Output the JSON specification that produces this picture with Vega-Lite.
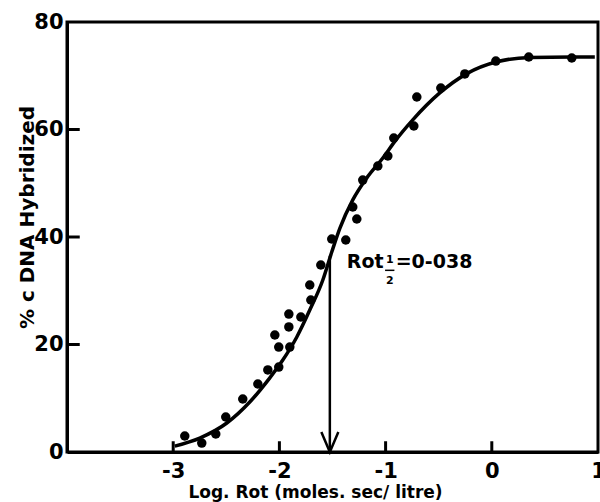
{
  "$schema": "https://vega.github.io/schema/vega-lite/v6.json",
  "width": 531,
  "height": 430,
  "autosize": "none",
  "padding": {"left": 67, "top": 22, "right": 2, "bottom": 50},
  "background": "white",
  "config": {
    "view": {"stroke": "black", "strokeWidth": 3},
    "axis": {
      "grid": false,
      "domainColor": "black",
      "domainWidth": 3,
      "ticks": false,
      "labelFont": "DejaVu Sans",
      "labelFontWeight": "bold",
      "labelFontSize": 21,
      "labelColor": "black",
      "labelFlush": false,
      "labelOverlap": false,
      "titleFont": "DejaVu Sans",
      "titleFontWeight": "bold",
      "titleColor": "black"
    }
  },
  "datasets": {
    "dots": [
      {"x": -2.891, "y": 2.98}, {"x": -2.731, "y": 1.67}, {"x": -2.599, "y": 3.35},
      {"x": -2.505, "y": 6.51}, {"x": -2.345, "y": 9.86}, {"x": -2.203, "y": 12.65},
      {"x": -2.109, "y": 15.26}, {"x": -2.006, "y": 15.81}, {"x": -2.043, "y": 21.77},
      {"x": -2.006, "y": 19.53}, {"x": -1.902, "y": 19.53}, {"x": -1.911, "y": 23.26},
      {"x": -1.911, "y": 25.67}, {"x": -1.798, "y": 25.12}, {"x": -1.704, "y": 28.28},
      {"x": -1.714, "y": 31.07}, {"x": -1.61, "y": 34.79}, {"x": -1.507, "y": 39.63},
      {"x": -1.375, "y": 39.44}, {"x": -1.271, "y": 43.35}, {"x": -1.309, "y": 45.58},
      {"x": -1.215, "y": 50.6}, {"x": -1.073, "y": 53.21}, {"x": -0.979, "y": 55.07},
      {"x": -0.923, "y": 58.42}, {"x": -0.734, "y": 60.65}, {"x": -0.706, "y": 66.05},
      {"x": -0.48, "y": 67.72}, {"x": -0.254, "y": 70.33}, {"x": 0.038, "y": 72.74},
      {"x": 0.348, "y": 73.49}, {"x": 0.753, "y": 73.3}
    ],
    "curve": [
      {"x": -2.985, "y": 1.1}, {"x": -2.75, "y": 2.6}, {"x": -2.495, "y": 5.4},
      {"x": -2.279, "y": 9.3}, {"x": -2.09, "y": 13.8}, {"x": -1.968, "y": 17.1},
      {"x": -1.836, "y": 21.4}, {"x": -1.714, "y": 26.4}, {"x": -1.591, "y": 32.0},
      {"x": -1.507, "y": 37.2}, {"x": -1.431, "y": 41.6}, {"x": -1.309, "y": 46.9},
      {"x": -1.177, "y": 51.0}, {"x": -1.026, "y": 54.7}, {"x": -0.913, "y": 57.8},
      {"x": -0.744, "y": 61.8}, {"x": -0.49, "y": 66.8}, {"x": -0.235, "y": 70.4},
      {"x": 0.047, "y": 72.6}, {"x": 0.358, "y": 73.4}, {"x": 0.753, "y": 73.5},
      {"x": 0.97, "y": 73.5}
    ],
    "xticks": [
      {"x": -3, "y": 0, "y2": 2.0}, {"x": -2, "y": 0, "y2": 2.0},
      {"x": -1, "y": 0, "y2": 2.0}, {"x": 0, "y": 0, "y2": 2.0}
    ],
    "yticks": [
      {"x": -4, "x2": -3.88, "y": 20}, {"x": -4, "x2": -3.88, "y": 40},
      {"x": -4, "x2": -3.88, "y": 60}
    ],
    "arrow": [{"x": -1.525, "y": 36.5, "y2": 0, "yh": 1.86}],
    "bigText": [
      {"x": -1.365, "y": 35.3, "t": "Rot"},
      {"x": -0.905, "y": 35.3, "t": "=0-038"}
    ],
    "smallText": [
      {"x": -0.961, "y": 35.7, "t": "1"},
      {"x": -0.961, "y": 31.8, "t": "2"}
    ],
    "bar": [{"x": -1.005, "x2": -0.917, "y": 33.8}]
  },
  "layer": [
    {
      "data": {"name": "curve"},
      "mark": {"type": "line", "color": "black", "strokeWidth": 3.5, "interpolate": "monotone"},
      "encoding": {
        "x": {
          "field": "x", "type": "quantitative",
          "scale": {"domain": [-4, 1], "nice": false, "zero": false},
          "axis": {
            "orient": "bottom",
            "values": [-3, -2, -1, 0, 1],
            "labelPadding": 8,
            "format": "d",
            "labelExpr": "datum.value < 0 ? '-' + abs(datum.value) : datum.label",
            "title": "Log. Rot  (moles. sec/ litre)",
            "titleFontSize": 17,
            "titleX": 248,
            "titleY": 45,
            "titleAlign": "center",
            "titleBaseline": "alphabetic"
          }
        },
        "y": {
          "field": "y", "type": "quantitative",
          "scale": {"domain": [0, 80], "nice": false},
          "axis": {
            "orient": "left",
            "values": [0, 20, 40, 60, 80],
            "labelPadding": 4,
            "title": "% c DNA Hybridized",
            "titleFontSize": 20,
            "titleAngle": -90,
            "titleX": -34,
            "titleY": 195,
            "titleAlign": "center",
            "titleBaseline": "alphabetic"
          }
        }
      }
    },
    {
      "data": {"name": "dots"},
      "mark": {"type": "point", "filled": true, "color": "black", "size": 90, "opacity": 1},
      "encoding": {
        "x": {"field": "x", "type": "quantitative"},
        "y": {"field": "y", "type": "quantitative"}
      }
    },
    {
      "data": {"name": "xticks"},
      "mark": {"type": "rule", "color": "black", "strokeWidth": 3},
      "encoding": {
        "x": {"field": "x", "type": "quantitative"},
        "y": {"field": "y", "type": "quantitative"},
        "y2": {"field": "y2"}
      }
    },
    {
      "data": {"name": "yticks"},
      "mark": {"type": "rule", "color": "black", "strokeWidth": 3},
      "encoding": {
        "x": {"field": "x", "type": "quantitative"},
        "x2": {"field": "x2"},
        "y": {"field": "y", "type": "quantitative"}
      }
    },
    {
      "data": {"name": "arrow"},
      "mark": {"type": "rule", "color": "black", "strokeWidth": 2.5},
      "encoding": {
        "x": {"field": "x", "type": "quantitative"},
        "y": {"field": "y", "type": "quantitative"},
        "y2": {"field": "y2"}
      }
    },
    {
      "data": {"name": "arrow"},
      "mark": {"type": "point", "shape": "M-0.85,-1L0,1L0.85,-1", "filled": false, "stroke": "black", "strokeWidth": 2.5, "size": 400, "opacity": 1},
      "encoding": {
        "x": {"field": "x", "type": "quantitative"},
        "y": {"field": "yh", "type": "quantitative"}
      }
    },
    {
      "data": {"name": "bigText"},
      "mark": {"type": "text", "font": "DejaVu Sans", "fontWeight": "bold", "fontSize": 19, "align": "left", "baseline": "middle", "color": "black"},
      "encoding": {
        "x": {"field": "x", "type": "quantitative"},
        "y": {"field": "y", "type": "quantitative"},
        "text": {"field": "t"}
      }
    },
    {
      "data": {"name": "smallText"},
      "mark": {"type": "text", "font": "DejaVu Sans", "fontWeight": "bold", "fontSize": 11, "align": "center", "baseline": "middle", "color": "black"},
      "encoding": {
        "x": {"field": "x", "type": "quantitative"},
        "y": {"field": "y", "type": "quantitative"},
        "text": {"field": "t"}
      }
    },
    {
      "data": {"name": "bar"},
      "mark": {"type": "rule", "color": "black", "strokeWidth": 1.5},
      "encoding": {
        "x": {"field": "x", "type": "quantitative"},
        "x2": {"field": "x2"},
        "y": {"field": "y", "type": "quantitative"}
      }
    }
  ]
}
